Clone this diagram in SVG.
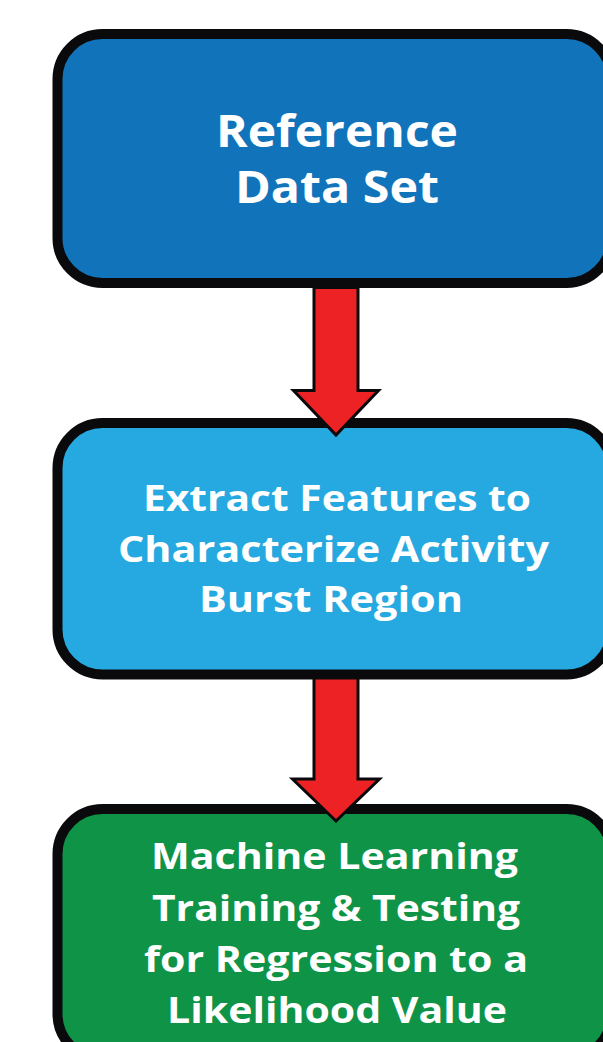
<svg xmlns="http://www.w3.org/2000/svg" width="603" height="1042" viewBox="0 0 603 1042">
<style>
.box{stroke:#0a0a0c;stroke-width:10}
.lbl{font-family:"Open Sans","Liberation Sans",sans-serif;font-weight:bold;fill:#ffffff}
.arrow{fill:#ed2224;stroke:#0a0a0c;stroke-width:3;stroke-linejoin:miter}
</style>
<rect width="603" height="1042" fill="#ffffff"/>
<g id="node-reference">
<rect class="box" x="57.5" y="34" width="554" height="249" rx="45" fill="#1174bb"/>
<text class="lbl" font-size="45" x="216" y="147" textLength="242" lengthAdjust="spacingAndGlyphs">Reference</text>
<text class="lbl" font-size="45" x="235" y="203" textLength="204" lengthAdjust="spacingAndGlyphs">Data Set</text>
</g>
<g id="node-extract">
<rect class="box" x="57.5" y="423" width="554" height="251.5" rx="45" fill="#25a9e0"/>
<text class="lbl" font-size="36.5" x="143" y="511" textLength="388" lengthAdjust="spacingAndGlyphs">Extract Features to</text>
<text class="lbl" font-size="36.5" x="118" y="562" textLength="431" lengthAdjust="spacingAndGlyphs">Characterize Activity</text>
<text class="lbl" font-size="36.5" x="199" y="612" textLength="264" lengthAdjust="spacingAndGlyphs">Burst Region</text>
</g>
<g id="node-ml">
<rect class="box" x="57.5" y="809" width="554" height="250" rx="45" fill="#0f9347"/>
<text class="lbl" font-size="36.5" x="151" y="869" textLength="367" lengthAdjust="spacingAndGlyphs">Machine Learning</text>
<text class="lbl" font-size="36.5" x="152" y="921" textLength="368" lengthAdjust="spacingAndGlyphs">Training &amp; Testing</text>
<text class="lbl" font-size="36.5" x="144" y="972" textLength="384" lengthAdjust="spacingAndGlyphs">for Regression to a</text>
<text class="lbl" font-size="36.5" x="167" y="1023" textLength="340" lengthAdjust="spacingAndGlyphs">Likelihood Value</text>
</g>
<g id="connectors">
<polygon class="arrow" points="314,287.5 358,287.5 358,390.5 378.5,390.5 336,435 293.5,390.5 314,390.5"/>
<polygon class="arrow" points="314,678 358,678 358,779 379.5,779 336,821 292.5,779 314,779"/>
</g>
</svg>
